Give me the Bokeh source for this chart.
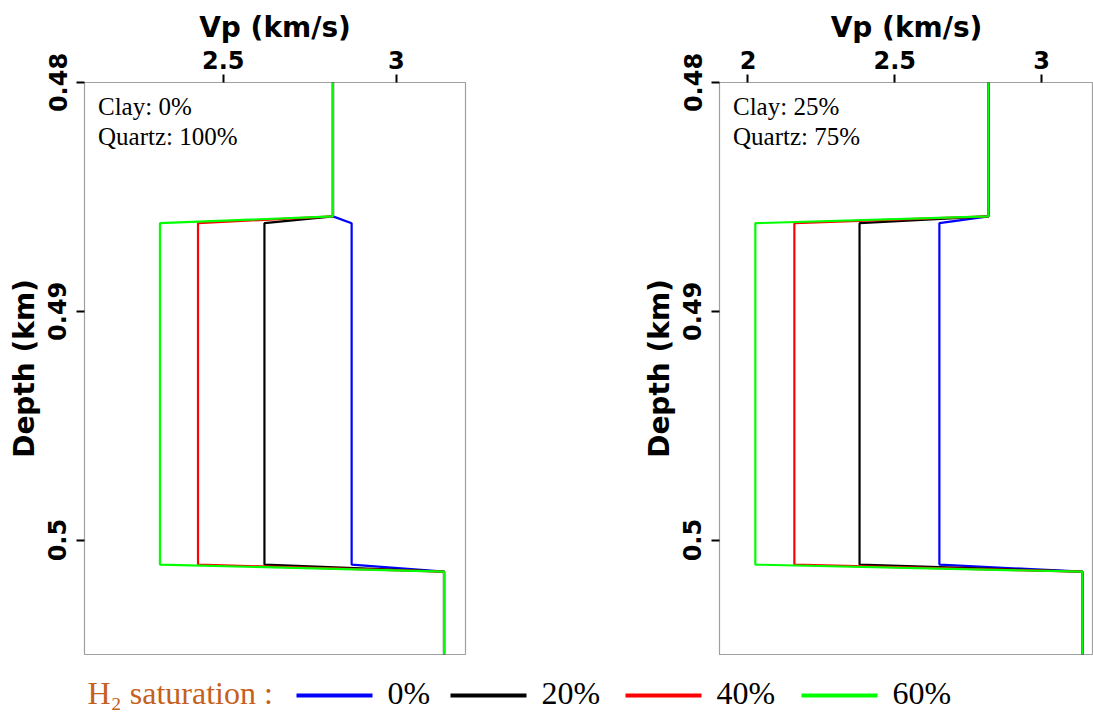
from bokeh.plotting import figure
from bokeh.models import Range1d, FixedTicker, NumeralTickFormatter
from bokeh.layouts import column, row
from bokeh.core.properties import value
from bokeh.embed import file_html
from bokeh.resources import INLINE

# ---------------- data ----------------
depth_km = [0.48, 0.48585, 0.48615, 0.50107, 0.50138, 0.505]
saturations = ["0%", "20%", "40%", "60%"]
colors = ["#0000FF", "#000000", "#FF0000", "#00FF00"]

# Panel 1: Clay 0 %, Quartz 100 %
vp_top_p1 = 2.817
vp_res_p1 = [2.871, 2.619, 2.427, 2.317]
vp_bot_p1 = 3.138
# Panel 2: Clay 25 %, Quartz 75 %
vp_top_p2 = 2.819
vp_res_p2 = [2.652, 2.380, 2.158, 2.025]
vp_bot_p2 = 3.139

x_ticks_p1 = [2.5, 3.0]
x_ticks_p2 = [2.0, 2.5, 3.0]
y_ticks = [0.48, 0.49, 0.50]
notes_p1 = ["Clay: 0%", "Quartz: 100%"]
notes_p2 = ["Clay: 25%", "Quartz: 75%"]

SANS = "DejaVu Sans"
SERIF = "Liberation Serif"


def make_panel(width, border_left, border_right, xr, xticks, top, res, bot, notes, note_x):
    p = figure(width=width, height=656, output_backend="svg", toolbar_location=None,
               x_range=Range1d(*xr), y_range=Range1d(0.505, 0.48),
               x_axis_location="above", min_border_left=border_left,
               min_border_right=border_right, min_border_top=82, min_border_bottom=2)
    p.grid.visible = False
    p.outline_line_color = "#a0a0a0"
    p.outline_line_width = 1.2
    p.background_fill_color = "white"
    p.border_fill_color = "white"

    for ax in (p.xaxis[0], p.yaxis[0]):
        ax.axis_line_color = None
        ax.major_tick_line_color = "black"
        ax.major_tick_line_width = 2
        ax.major_tick_out = 8
        ax.major_tick_in = 0
        ax.minor_tick_line_color = None
        ax.major_label_text_font = SANS
        ax.major_label_text_font_style = "bold"
        ax.major_label_text_font_size = "24px"
        ax.major_label_text_color = "black"
        ax.axis_label_text_font = SANS
        ax.axis_label_text_font_style = "bold"
        ax.axis_label_text_font_size = "28px"
        ax.axis_label_text_color = "black"
        ax.formatter = NumeralTickFormatter(format="0.[00]")

    p.xaxis.axis_label = "Vp (km/s)"
    p.xaxis.ticker = FixedTicker(ticks=xticks)
    p.xaxis.major_label_standoff = 6
    p.xaxis.axis_label_standoff = 4

    p.yaxis.axis_label = "Depth (km)"
    p.yaxis.ticker = FixedTicker(ticks=y_ticks)
    p.yaxis.major_label_orientation = "vertical"
    p.yaxis.major_label_standoff = 10
    p.yaxis.axis_label_standoff = 5

    for v, c in zip(res, colors):
        xs = [top, top, v, v, bot, bot]
        p.line(xs, depth_km, line_color=c, line_width=2.2)

    p.text(x=[note_x, note_x], y=[0.481035, 0.48238], text=notes,
           text_font=value(SERIF), text_font_size="25px", text_color="black",
           text_baseline="middle", text_align="left")
    return p


p1 = make_panel(600, 84, 135, (2.099, 3.2), x_ticks_p1,
                vp_top_p1, vp_res_p1, vp_bot_p1, notes_p1, 2.138)
p2 = make_panel(493, 119, 0, (1.903, 3.177), x_ticks_p2,
                vp_top_p2, vp_res_p2, vp_bot_p2, notes_p2, 1.949)

# ---------------- legend strip ----------------
leg = figure(width=1093, height=58, output_backend="svg", toolbar_location=None,
             x_range=Range1d(0, 1093), y_range=Range1d(0, 58),
             min_border=0, min_border_left=0, min_border_right=0,
             min_border_top=0, min_border_bottom=0)
leg.axis.visible = False
leg.grid.visible = False
leg.outline_line_color = None

leg.text(x=[87], y=[21.5], text=["H\u2082 saturation :"], text_font=value(SERIF),
         text_font_size="32px", text_color="#C4611C", text_baseline="middle")

legend_x = [296, 450, 625, 801]
for x0, lab, c in zip(legend_x, saturations, colors):
    leg.line([x0, x0 + 76], [19, 19], line_color=c, line_width=4)
    leg.text(x=[x0 + 91], y=[21.5], text=[lab], text_font=value(SERIF),
             text_font_size="32px", text_color="black", text_baseline="middle")

layout = column(row(p1, p2, spacing=0), leg, spacing=0)
open("out.html", "w").write(file_html(layout, INLINE))
